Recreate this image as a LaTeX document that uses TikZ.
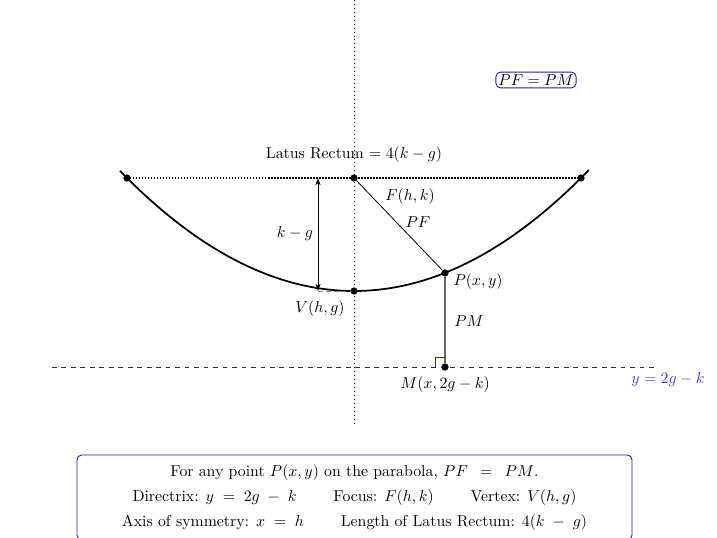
\documentclass[tikz,border=0pt]{standalone}
\usetikzlibrary{arrows.meta}
\definecolor{lineblue}{RGB}{35,35,170}
\definecolor{textblue}{RGB}{70,55,210}
\begin{document}
\begin{tikzpicture}[x=0.633pt,y=-0.633pt,
  dot/.style={circle,fill=black,inner sep=0pt,minimum size=4.6pt},
  lbl/.style={inner sep=1pt},
  curve/.style={line width=1.1pt},
  axisline/.style={dotted,line width=0.5pt},
  latusline/.style={densely dotted,line width=0.9pt},
  dirline/.style={dashed,lineblue,line width=0.6pt},
  roundbox/.style={draw=lineblue,rounded corners=3pt,line width=0.6pt},
  tip/.tip={Stealth[length=4.5pt,width=3.2pt,inset=1.2pt]}]
\useasboundingbox (0,0) rectangle (717,537);

% points
\coordinate (axTop) at (354,0);
\coordinate (axBot) at (354,423);
\coordinate (dL) at (52,367);
\coordinate (dR) at (655,367);
\coordinate (A1) at (318,178);
\coordinate (A2) at (318,291);

% axis of symmetry
\draw[axisline] (axTop) -- (axBot);
% directrix
\draw[dirline] (dL) -- (dR);

% parabola
\draw[curve] plot[domain=-2.34:2.35,samples=120] ({354+100*\x},{291-21.93*\x*\x});

\node[dot] (L) at (127,178) {};
\node[dot] (F) at (354,178) {};
\node[dot] (R) at (581,178) {};
\node[dot] (V) at (354,291) {};
\node[dot] (P) at (445,273) {};
\node[dot] (M) at (445,367) {};

% latus rectum
\draw[latusline] (L.center) -- (R.center);

% focal and directrix distances
\draw[line width=0.5pt] (F) -- (P);
\draw[gray!80!black,line width=0.7pt] (P) -- (M);

% right angle mark
\draw[lineblue,line width=0.5pt] (M.center) ++(-10,0) -- ++(0,-10) -- ++(10,0);

% k-g arrow
\draw[tip-tip,line width=0.6pt] (A1) -- (A2);
\draw[densely dashed,gray,line width=0.5pt] (A2) -- (V);

% labels
\node[lbl] (lrlab) at (354,155) {Latus Rectum $=4(k-g)$};
\node[lbl] (Flab) at (410,197) {$F(h,k)$};
\node[lbl] (PFlab) at (418,222) {$PF$};
\node[lbl] (kglab) at (295,234) {$k-g$};
\node[lbl] (Plab) at (478,282) {$P(x,y)$};
\node[lbl] (PMlab) at (469,321) {$PM$};
\node[lbl] (Vlab) at (320,309) {$V(h,g)$};
\node[lbl] (Mlab) at (445,385) {$M(x,2g-k)$};
\node[lbl,text=textblue] (dirlab) at (668,380) {$y=2g-k$};

\node[roundbox,inner sep=1.6pt] (eq) at (536,80) {$PF=PM$};

\node[roundbox,minimum width=351.3pt,minimum height=53.8pt,align=center,inner sep=0pt] (info) at (354.5,497.5)
 {For any point $P(x,y)$ on the parabola, $PF\enspace=\enspace PM$.\\[4pt]
  Directrix: $y\;=\;2g\;-\;k$\qquad\ Focus: $F(h,k)$\qquad\ Vertex: $V(h,g)$\\[4pt]
  Axis of symmetry: $x\;=\;h$\qquad\ Length of Latus Rectum: $4(k\;-\;g)$};
\end{tikzpicture}
\end{document}
